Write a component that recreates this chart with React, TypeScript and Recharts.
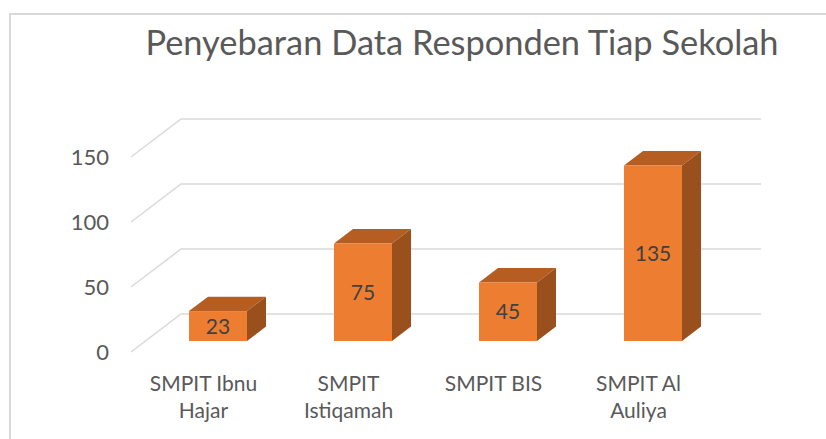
import { BarChart, Bar, XAxis, YAxis, CartesianGrid, LabelList } from 'recharts';

const categories = ['SMPIT Ibnu Hajar', 'SMPIT Istiqamah', 'SMPIT BIS', 'SMPIT Al Auliya'];
const responden = [23, 75, 45, 135];
const yTicks = [0, 50, 100, 150];

const data = categories.map((name, i) => ({ name, value: responden[i] }));

const FONT = 'Lato, "Open Sans", sans-serif';
// floor depth of the 3D plot (back wall offset from the front plane)
const DX = 50;
const DY = -38;
const FRONT = 0.29;
const BACK = 0.67;

function wrap(label: string, max = 10) {
  const lines: string[] = [];
  let cur = '';
  label.split(' ').forEach((w) => {
    const next = cur ? cur + ' ' + w : w;
    if (next.length > max && cur) {
      lines.push(cur);
      cur = w;
    } else cur = next;
  });
  if (cur) lines.push(cur);
  return lines;
}

const Box3D = (props: any) => {
  const { x, y, width: w, height: h } = props;
  const fx = DX * FRONT, fy = DY * FRONT;
  const bx = DX * BACK, by = DY * BACK;
  const X = x + fx, Y = y + fy;
  return (
    <g>
      <polygon
        points={`${X},${Y} ${X + w},${Y} ${x + bx + w},${y + by} ${x + bx},${y + by}`}
        fill="#B65E22"
      />
      <polygon
        points={`${X + w},${Y} ${x + bx + w},${y + by} ${x + bx + w},${y + h + by} ${X + w},${Y + h}`}
        fill="#9A501C"
      />
      <rect x={X} y={Y} width={w} height={h} fill="#ED7D31" />
    </g>
  );
};

const GridLine = (p: any) => (
  <polyline
    key={p.key ?? p.y1}
    points={`${p.x1},${p.y1} ${p.x1 + DX},${p.y1 + DY} ${p.x2 + DX},${p.y2 + DY}`}
    fill="none"
    stroke="#D9D9D9"
    strokeWidth={1.5}
  />
);

const CatTick = ({ x, y, payload }: any) => (
  <text x={x} y={y} textAnchor="middle" fill="#595959" fontSize={21} fontFamily={FONT}>
    {wrap(payload.value).map((line, i) => (
      <tspan key={i} x={x} y={y + 39 + i * 27}>
        {line}
      </tspan>
    ))}
  </text>
);

const ValueLabel = (p: any) => {
  const { x, y, width, height, value } = p;
  return (
    <text
      x={x + width / 2 + DX * FRONT}
      y={y + height / 2 + DY * FRONT}
      dy="0.36em"
      textAnchor="middle"
      fill="#404040"
      fontSize={21}
      fontFamily={FONT}
    >
      {value}
    </text>
  );
};

export default function App() {
  return (
    <div style={{ position: 'absolute', left: 0, top: 0, width: 826, height: 439, background: '#fff', overflow: 'hidden' }}>
      <div
        style={{
          position: 'absolute',
          left: 9,
          top: 13,
          width: 900,
          height: 500,
          borderTop: '2px solid #D9D9D9',
          borderLeft: '2px solid #D9D9D9',
        }}
      />
      <div
        style={{
          position: 'absolute',
          left: 462,
          top: 21,
          transform: 'translateX(-50%)',
          whiteSpace: 'nowrap',
          fontFamily: FONT,
          fontSize: 34.4,
          color: '#595959',
        }}
      >
        Penyebaran Data Responden Tiap Sekolah
      </div>
      <div style={{ position: 'absolute', left: 0, top: 0 }}>
        <BarChart
          width={826}
          height={439}
          data={data}
          margin={{ top: 157, right: 115, bottom: 27, left: 61 }}
          barCategoryGap="30%"
        >
          <CartesianGrid vertical={false} horizontal={GridLine} />
          <YAxis
            width={70}
            domain={[0, 150]}
            ticks={yTicks}
            axisLine={false}
            tickLine={false}
            tickSize={0}
            tickMargin={22}
            tick={{ fill: '#595959', fontSize: 22, fontFamily: FONT }}
          />
          <XAxis
            dataKey="name"
            height={60}
            axisLine={false}
            tickLine={false}
            tickSize={0}
            tickMargin={0}
            interval={0}
            tick={<CatTick />}
          />
          <Bar dataKey="value" shape={<Box3D />} isAnimationActive={false}>
            <LabelList dataKey="value" content={<ValueLabel />} />
          </Bar>
        </BarChart>
      </div>
    </div>
  );
}
